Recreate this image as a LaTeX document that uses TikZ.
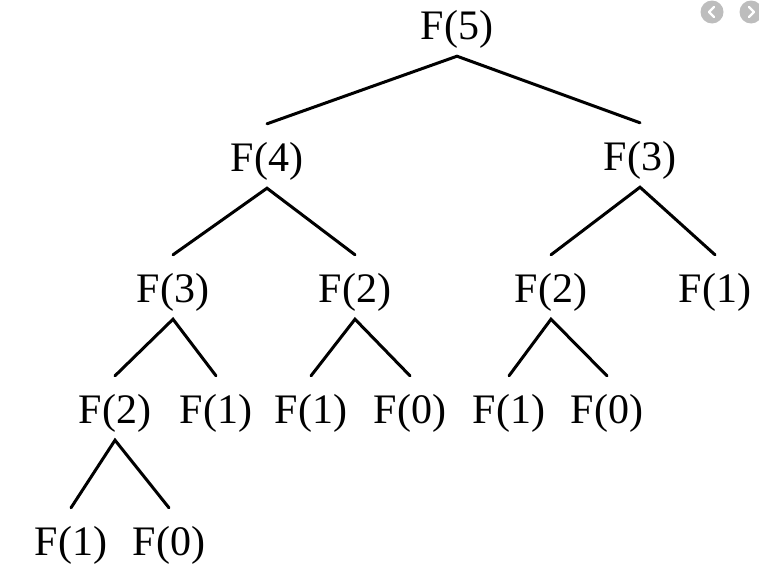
\documentclass[tikz,border=0pt]{standalone}
\usepackage{fontspec}
\setmainfont{Liberation Serif}
\definecolor{icongray}{HTML}{BDBDBD}
\begin{document}
\begin{tikzpicture}[x=1pt,y=-1pt,
  fnode/.style={anchor=base,inner sep=0pt,text height=47pt,text depth=17pt,
    font=\fontsize{42}{50}\selectfont},
  edge/.style={line width=3pt,line cap=round}]
\useasboundingbox (0,0) rectangle (759,570);
% row 1
\node[fnode] (f5) at (457,39) {F(5)};
% row 2
\node[fnode] (f4) at (267,171) {F(4)};
\node[fnode] (f3r) at (640,170) {F(3)};
% row 3
\node[fnode] (f3l) at (173,302) {F(3)};
\node[fnode] (f2a) at (355,302) {F(2)};
\node[fnode] (f2b) at (551,302) {F(2)};
\node[fnode] (f1a) at (715,302) {F(1)};
% row 4
\node[fnode] (f2c) at (115,423) {F(2)};
\node[fnode] (f1b) at (216,423) {F(1)};
\node[fnode] (f1c) at (311,423) {F(1)};
\node[fnode] (f0a) at (410,423) {F(0)};
\node[fnode] (f1d) at (509,423) {F(1)};
\node[fnode] (f0b) at (607,423) {F(0)};
% row 5
\node[fnode] (f1e) at (71,555) {F(1)};
\node[fnode] (f0c) at (169,555) {F(0)};
% connectors
\draw[edge] (f4.north) -- (f5.south) -- (f3r.north);
\draw[edge] (f3l.north) -- (f4.south) -- (f2a.north);
\draw[edge] (f2b.north) -- (f3r.south) -- (f1a.north);
\draw[edge] (f2c.north) -- (f3l.south) -- (f1b.north);
\draw[edge] (f1c.north) -- (f2a.south) -- (f0a.north);
\draw[edge] (f1d.north) -- (f2b.south) -- (f0b.north);
\draw[edge] (f1e.north) -- (f2c.south) -- (f0c.north);
% browser icons
\fill[icongray] (712,12) circle (11.5);
\fill[icongray] (751,12) circle (11.5);
\draw[white,line width=2.2pt,line cap=round,line join=round] (714,7) -- (709,12) -- (714,17);
\draw[white,line width=2.2pt,line cap=round,line join=round] (749,7) -- (754,12) -- (749,17);
\end{tikzpicture}
\end{document}
